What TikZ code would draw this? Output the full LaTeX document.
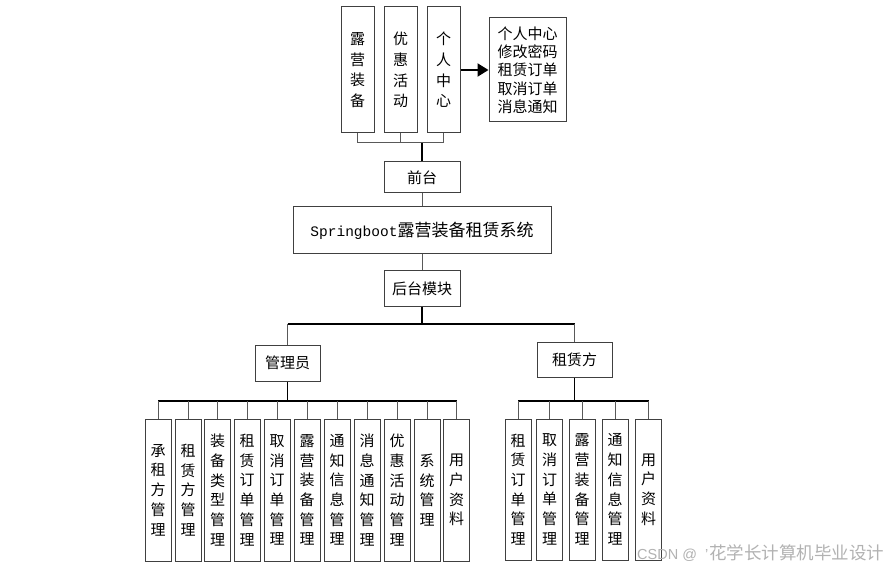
\documentclass[tikz,border=0pt]{standalone}
\usepackage{fontspec}
\newfontfamily\cjk{Noto Sans CJK SC}
\newfontfamily\monofont{Liberation Mono}
\newfontfamily\latinsans{Liberation Sans}
\usetikzlibrary{arrows.meta}
\tikzset{
  box/.style={draw=black!75, line width=1pt, fill=white, inner sep=0pt, align=center,
    font=\cjk\fontsize{15}{19.7}\selectfont},
  vbox/.style={box, minimum width=26pt, minimum height=142pt},
  tbox/.style={box, minimum width=33pt, minimum height=126pt, font=\cjk\fontsize{15}{20.7}\selectfont},
  hbox/.style={box, minimum width=76pt, minimum height=33pt},
  thinline/.style={draw=black!65, line width=1pt},
  busline/.style={draw=black, line width=1.3pt},
  trunk/.style={draw=black, line width=1.8pt},
}
\begin{document}
\begin{tikzpicture}[x=1pt,y=-1pt]
\useasboundingbox (0,0) rectangle (891,569);
\fill[white] (0,0) rectangle (891,569);
% bus coordinates
\coordinate (bt) at (0,143);
\coordinate (hb) at (0,324);
\coordinate (ab) at (0,401);
% top
\node[tbox] (t1) at (357.5,70) {露\\营\\装\\备};
\node[tbox] (t2) at (400.5,70) {优\\惠\\活\\动};
\node[tbox] (t3) at (443.5,70) {个\\人\\中\\心};
\node[box, minimum width=77pt, minimum height=104pt, font=\cjk\fontsize{15}{18.3}\selectfont] (info) at (527.5,70) {个人中心\\修改密码\\租赁订单\\取消订单\\消息通知};
\node[hbox, minimum height=31pt] (qt) at (422,177.5) {前台};
\node[box, minimum width=258pt, minimum height=47pt] (sys) at (422,230.5) {{\monofont\fontsize{14.5}{17}\selectfont Springboot}{\fontsize{17}{17}\selectfont 露营装备租赁系统}};
\node[hbox, minimum height=35pt] (ht) at (422,288.5) {后台模块};
\node[box, minimum width=65pt, minimum height=36pt] (gly) at (287.5,363) {管理员};
\node[box, minimum width=75pt, minimum height=35pt] (zlf) at (574.5,359.5) {租赁方};
% admin children
\node[vbox] (a1) at (158,490) {承\\租\\方\\管\\理};
\node[vbox] (a2) at (188,490) {租\\赁\\方\\管\\理};
\node[vbox] (a3) at (217.5,490) {装\\备\\类\\型\\管\\理};
\node[vbox] (a4) at (247,490) {租\\赁\\订\\单\\管\\理};
\node[vbox] (a5) at (277,490) {取\\消\\订\\单\\管\\理};
\node[vbox] (a6) at (307,490) {露\\营\\装\\备\\管\\理};
\node[vbox] (a7) at (337,490) {通\\知\\信\\息\\管\\理};
\node[vbox] (a8) at (367,490) {消\\息\\通\\知\\管\\理};
\node[vbox] (a9) at (397,490) {优\\惠\\活\\动\\管\\理};
\node[vbox] (a10) at (427,490) {系\\统\\管\\理};
\node[vbox] (a11) at (456.5,490) {用\\户\\资\\料};
% tenant children
\node[vbox, minimum height=141pt] (b1) at (518,489.5) {租\\赁\\订\\单\\管\\理};
\node[vbox, minimum height=141pt] (b2) at (549.5,489.5) {取\\消\\订\\单\\管\\理};
\node[vbox, minimum height=141pt] (b3) at (582,489.5) {露\\营\\装\\备\\管\\理};
\node[vbox, minimum height=141pt] (b4) at (615,489.5) {通\\知\\信\\息\\管\\理};
\node[vbox, minimum height=141pt] (b5) at (648.5,489.5) {用\\户\\资\\料};
% connectors top
\draw[thinline] (t1.south) -- (t1.south |- bt) -- (t3.south |- bt) -- (t3.south);
\draw[thinline] (t2.south) -- (t2.south |- bt);
\draw[trunk] (qt.north) -- (qt.north |- bt);
\draw[line width=2pt, -{Triangle[length=11pt,width=13pt]}] (t3.east) -- (info.west);
\draw[thinline] (qt.south) -- (sys.north);
\draw[thinline] (sys.south) -- (ht.north);
\draw[trunk] (ht.south) -- (ht.south |- hb);
\draw[busline] (gly.north |- hb) -- (zlf.north |- hb);
\draw[thinline] (gly.north) -- (gly.north |- hb);
\draw[thinline] (zlf.north) -- (zlf.north |- hb);
% admin bus
\draw[trunk] (gly.south) -- (gly.south |- ab);
\draw[busline] (a1.north |- ab) -- (a11.north |- ab);
\foreach \i in {1,...,11} {\draw[thinline] (a\i.north) -- (a\i.north |- ab);}
% tenant bus
\draw[trunk] (zlf.south) -- (zlf.south |- ab);
\draw[busline] (b1.north |- ab) -- (b5.north |- ab);
\foreach \i in {1,...,5} {\draw[thinline] (b\i.north) -- (b\i.north |- ab);}
% watermark
\node[anchor=west, inner sep=0pt, text=black!30, font=\cjk\fontsize{17.5}{18}\selectfont] (wm) at (637,553) {{\latinsans\fontsize{14.5}{16}\selectfont CSDN @\hspace{8pt}’}\hspace{1pt}花学长计算机毕业设计};
\end{tikzpicture}
\end{document}
